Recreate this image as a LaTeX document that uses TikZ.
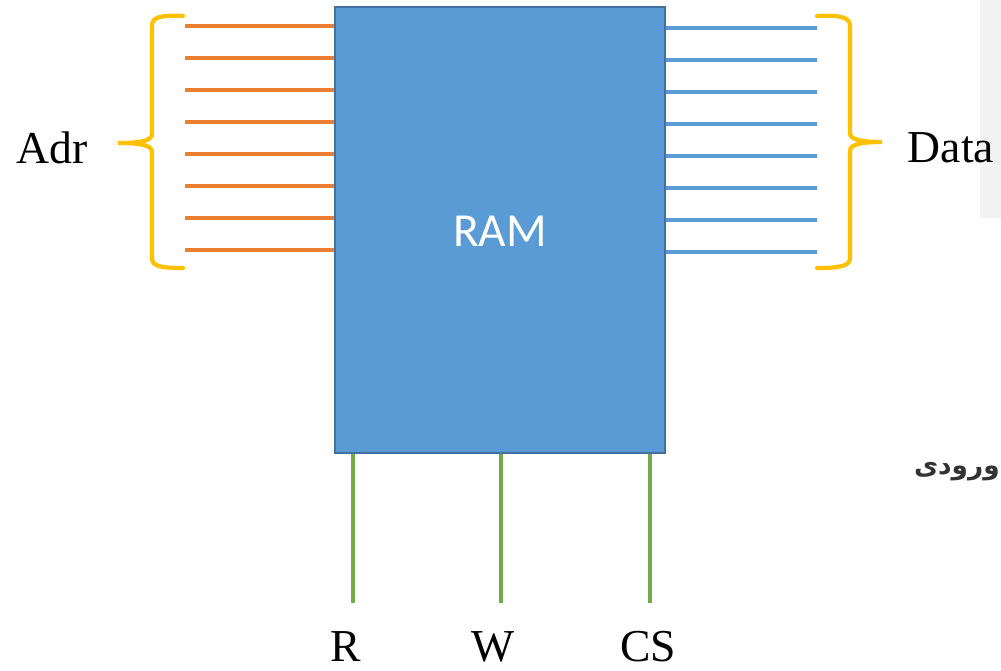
\documentclass[tikz,border=0pt]{standalone}
\usepackage{fontspec}
\setmainfont{Liberation Serif}
\newfontfamily\ramfont{Carlito}
\newfontfamily\arabicfont[Script=Arabic]{DejaVu Sans}
\TeXXeTstate=1
\usetikzlibrary{positioning,calc}
\definecolor{ramblue}{HTML}{5B9BD5}
\definecolor{ramedge}{HTML}{41719C}
\definecolor{adrorange}{HTML}{ED7D31}
\definecolor{bracegold}{HTML}{FFC000}
\definecolor{ctrlgreen}{HTML}{70AD47}
\definecolor{pagegray}{HTML}{F2F2F2}

\begin{document}
\begin{tikzpicture}[x=0.02cm, y=-0.02cm,
  every node/.style={inner sep=0pt},
  bus/.style={line width=2.6pt*0.75},
  bracket/.style={bracegold, line width=3.2pt*0.75, line cap=round},
  lbl/.style={font=\fontsize{26}{30}\selectfont}]
  \clip (0,0) rectangle (1001,670);
  \fill[pagegray] (980,0) rectangle (1001,218);

  \node (ram) [draw=ramedge, fill=ramblue, line width=1.2pt, minimum width=6.6cm, minimum height=8.92cm] at (500,230) {};
  \node (ramtext) [text=white, font=\ramfont\fontsize{27}{30}\selectfont, below=4.2cm of ram.north] {RAM};

  % address and data lines
  \foreach \i in {0,...,7} {
    \coordinate (a\i) at (185,{26+32*\i});
    \coordinate (d\i) at (817,{28+32*\i});
    \draw[bus, adrorange] (a\i) -- (a\i -| ram.west);
    \draw[bus, ramblue] (ram.east |- d\i) -- (d\i);
  }

  % braces
  \draw[bracket] (183,16) .. controls (160,15) and (152,17) .. (152,26) -- (152,134)
    .. controls (152,141) and (140,143) .. (118,143)
    .. controls (140,143) and (152,145) .. (152,152) -- (152,258)
    .. controls (152,266) and (160,268) .. (183,268);
  \draw[bracket] (817,16) .. controls (840,15) and (850,17) .. (850,26) -- (850,133)
    .. controls (850,140) and (862,142) .. (882,142)
    .. controls (862,142) and (850,144) .. (850,151) -- (850,258)
    .. controls (850,266) and (840,268) .. (817,268);
  \node (adr) [lbl] at (52,148) {Adr};
  \node (data) [lbl] at (951,148) {Data};

  % control lines
  \node (r) [lbl, anchor=base] at (346,661) {R};
  \node (w) [lbl, anchor=base] at (493,661) {W};
  \node (cs) [lbl, anchor=base] at (648,661) {CS};
  \coordinate (rend) at (353,603);
  \coordinate (wend) at (501,603);
  \coordinate (csend) at (650,603);
  \foreach \c in {rend,wend,csend}
    \draw[bus, ctrlgreen] (ram.south -| \c) -- (\c);

  \node (farsi) [anchor=east, font=\arabicfont\bfseries\fontsize{15}{17}\selectfont, text=black!80] at (1000,472) {\beginR ورودی\endR};
\end{tikzpicture}
\end{document}
